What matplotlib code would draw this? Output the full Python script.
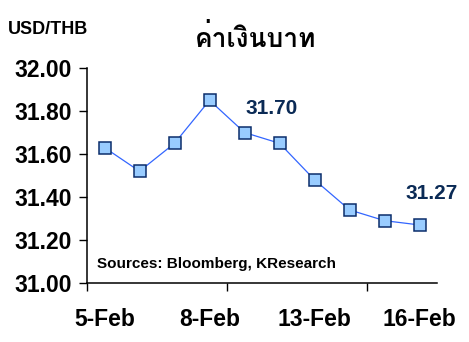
import matplotlib
matplotlib.use('Agg')
import matplotlib.pyplot as plt
from matplotlib import font_manager
from matplotlib.ft2font import FT2Font

dates = ['5-Feb', '6-Feb', '7-Feb', '8-Feb', '9-Feb',
         '12-Feb', '13-Feb', '14-Feb', '15-Feb', '16-Feb']
rates = [31.63, 31.52, 31.65, 31.85, 31.70, 31.65, 31.48, 31.34, 31.29, 31.27]
shown_labels = {0: '5-Feb', 3: '8-Feb', 6: '13-Feb', 9: '16-Feb'}
labelled_points = {4: '31.70', 9: '31.27'}


def find_thai_font():
    """Return a family name that has Thai glyphs, if any."""
    for f in font_manager.fontManager.ttflist:
        try:
            if 0x0E04 in FT2Font(f.fname).get_charmap():
                return f.name
        except Exception:
            continue
    return 'DejaVu Sans'


thai = find_thai_font()
base = 'Liberation Sans'

fig = plt.figure(figsize=(4.69, 3.42), dpi=100)
ax = fig.add_axes([0.1855, 0.1725, 0.7465, 0.6285])

x = list(range(len(rates)))
ax.plot(x, rates, color='#3366FF', lw=0.9, marker='s', markersize=8.5,
        markerfacecolor='#99CCFF', markeredgecolor='#0B2D6B', markeredgewidth=1.1)

ax.set_xlim(-0.5, len(rates) - 0.5)
ax.set_ylim(31.0, 32.0)
ax.set_yticks([31.0, 31.2, 31.4, 31.6, 31.8, 32.0])
ax.set_yticklabels([f'{v:.2f}' for v in ax.get_yticks()],
                   fontsize=16.5, fontweight='bold', family=base)

# ticks between categories every 4, labels under selected dates
ax.set_xticks([-0.5, 3.5, 7.5])
ax.set_xticklabels([])
ax.set_xticks(list(shown_labels.keys()), minor=True)
ax.set_xticklabels(list(shown_labels.values()), minor=True,
                   fontsize=16.5, fontweight='bold', family=base)
ax.tick_params(axis='x', which='minor', length=0, pad=18)
ax.tick_params(axis='x', which='major', length=6, width=1)
ax.tick_params(axis='y', length=6, width=1, pad=5)

for s in ['top', 'right']:
    ax.spines[s].set_visible(False)
for s in ['left', 'bottom']:
    ax.spines[s].set_linewidth(1.1)

offsets = {4: (19.5, 17), 9: (9, 22.5)}
for i, txt in labelled_points.items():
    ax.annotate(txt, (i, rates[i]), xytext=offsets[i], textcoords='offset points',
                ha='center', va='center', fontsize=15, fontweight='bold',
                color='#0A2A55', family=base)

ax.text(0.029, 0.088, 'Sources: Bloomberg, KResearch', transform=ax.transAxes,
        fontsize=11, fontweight='bold', family=base, va='center', ha='left')

fig.text(8 / 469, 1 - 29 / 342, 'USD/THB', fontsize=13, fontweight='bold',
         family=base, va='center', ha='left')
fig.text(256 / 469, 1 - 38 / 342, 'ค่าเงินบาท', fontsize=19, fontweight='bold',
         family=[thai, 'DejaVu Sans'], va='center', ha='center')

fig.savefig('out.png', dpi=100)
